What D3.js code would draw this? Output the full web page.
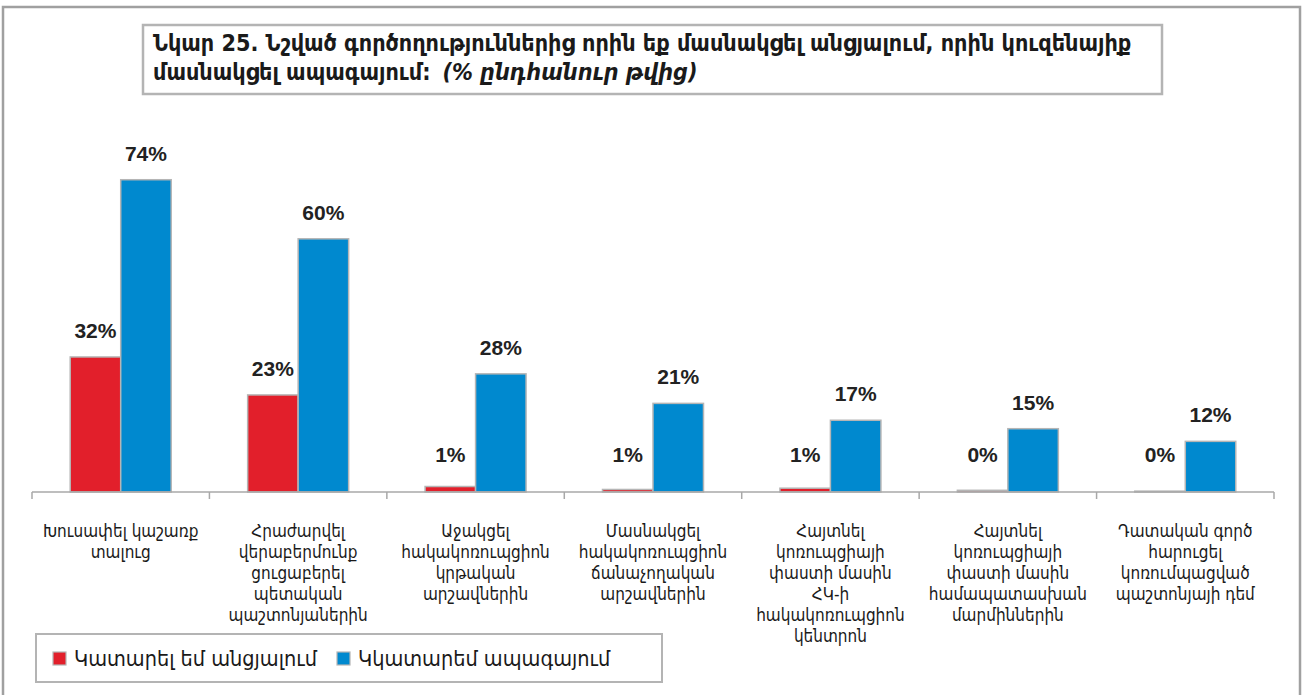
<!DOCTYPE html>
<html><head><meta charset="utf-8">
<script src="https://cdnjs.cloudflare.com/ajax/libs/d3/7.8.5/d3.min.js"></script>
<style>
html,body{margin:0;padding:0;background:#fff;}
svg{display:block;}
</style></head>
<body>
<script>
const categories = [
  "Խուսափել կաշառք\nտալուց",
  "Հրաժարվել\nվերաբերմունք\nցուցաբերել\nպետական\nպաշտոնյաներին",
  "Աջակցել\nհակակոռուպցիոն\nկրթական\nարշավներին",
  "Մասնակցել\nհակակոռուպցիոն\nճանաչողական\nարշավներին",
  "Հայտնել\nկոռուպցիայի\nփաստի մասին\nՀԿ-ի\nհակակոռուպցիոն\nկենտրոն",
  "Հայտնել\nկոռուպցիայի\nփաստի մասին\nհամապատասխան\nմարմիններին",
  "Դատական գործ\nհարուցել\nկոռումպացված\nպաշտոնյայի դեմ"
];
const seriesNames = ["Կատարել եմ անցյալում", "Կկատարեմ ապագայում"];
const pastValues = [32, 23, 1.3, 0.6, 0.9, 0.4, 0.2];
const futureValues = [74, 60, 28, 21, 17, 15, 12];
const seriesColors = ["#e21f2b", "#0089cf"];
const titleLine1 = "Նկար 25. Նշված գործողություններից որին եք մասնակցել անցյալում, որին կուզենայիք";
const titleLine2a = "մասնակցել ապագայում:";
const titleLine2b = "(% ընդհանուր թվից)";

const W = 1303, H = 695;
const svg = d3.select("body").append("svg").attr("width", W).attr("height", H);
const armFont = "'DejaVu Sans Condensed','DejaVu Sans',sans-serif";

// outer frame
svg.append("rect").attr("x", 3).attr("y", 7).attr("width", 1297).attr("height", 700)
  .attr("fill", "#fff").attr("stroke", "#a0a0a0").attr("stroke-width", 2.5);

// title box
svg.append("rect").attr("x", 143).attr("y", 25).attr("width", 1019).attr("height", 69)
  .attr("fill", "#fff").attr("stroke", "#b4b4b4").attr("stroke-width", 2.5);
const t1 = svg.append("text").attr("x", 153).attr("y", 51)
  .attr("font-family", armFont).attr("font-weight", "bold").attr("font-size", 22).attr("fill", "#1a1a1a")
  .text(titleLine1);
let fs = 22;
const len1 = t1.node().getComputedTextLength();
if (len1 > 0) fs = Math.min(26, 22 * 979 / len1);
t1.attr("font-size", fs);
const t2 = svg.append("text").attr("x", 153).attr("y", 80)
  .attr("font-family", armFont).attr("font-weight", "bold").attr("font-size", fs).attr("fill", "#1a1a1a");
t2.append("tspan").text(titleLine2a);
t2.append("tspan").attr("dx", 12).attr("font-style", "italic").text(titleLine2b);

// scales
const x = d3.scaleBand().domain(d3.range(categories.length)).range([32, 1274]).padding(0);
const x1 = d3.scaleBand().domain([0, 1]).range([0, x.bandwidth()]).paddingInner(0).paddingOuter(0.757);
const y = d3.scaleLinear().domain([0, 100]).range([492, 70]);

const data = categories.map((c, i) => ({i, vals: [pastValues[i], futureValues[i]]}));
const fmt = v => d3.format(".0f")(v) + "%";

const g = svg.append("g");
const groups = g.selectAll("g.cat").data(data).join("g").attr("transform", d => `translate(${x(d.i)},0)`);
groups.selectAll("rect").data(d => d.vals.map((v, s) => ({v, s}))).join("rect")
  .attr("x", d => x1(d.s)).attr("width", x1.bandwidth())
  .attr("y", d => y(d.v)).attr("height", d => y(0) - y(d.v))
  .attr("fill", d => seriesColors[d.s]).attr("stroke", "#b5b5b5").attr("stroke-width", 1.5);
groups.selectAll("text.val").data(d => d.vals.map((v, s) => ({v, s}))).join("text")
  .attr("class", "val")
  .attr("x", d => x1(d.s) + x1.bandwidth() / 2)
  .attr("y", d => Math.min(y(d.v), y(0) - 11) - 19)
  .attr("text-anchor", "middle")
  .attr("font-family", "'Liberation Sans',Arial,sans-serif").attr("font-weight", "bold")
  .attr("font-size", 21).attr("fill", "#222")
  .text(d => fmt(d.v));

// axis
const axisG = svg.append("g").attr("transform", `translate(0,${y(0)})`);
axisG.append("line").attr("x1", 32).attr("x2", 1274).attr("y1", 0).attr("y2", 0)
  .attr("stroke", "#a8a8a8").attr("stroke-width", 1.5);
const tickPos = d3.range(categories.length).map(i => x(i)).concat([x(categories.length - 1) + x.bandwidth()]);
axisG.selectAll("line.tick").data(tickPos).join("line").attr("class", "tick")
  .attr("x1", d => d).attr("x2", d => d).attr("y1", 0).attr("y2", 7)
  .attr("stroke", "#a8a8a8").attr("stroke-width", 1.5);

// category labels
const labs = svg.append("g").selectAll("text").data(categories).join("text")
  .attr("x", (d, i) => x(i) + x.bandwidth() / 2)
  .attr("y", 537)
  .attr("text-anchor", "middle")
  .attr("font-family", armFont).attr("font-size", 17).attr("fill", "#1a1a1a");
labs.each(function(d) {
  const lines = d.split("\n");
  d3.select(this).selectAll("tspan").data(lines).join("tspan")
    .attr("x", d3.select(this).attr("x")).attr("dy", (l, k) => k === 0 ? 0 : 21).text(l => l);
});

// legend
svg.append("rect").attr("x", 36).attr("y", 634).attr("width", 626).attr("height", 48)
  .attr("fill", "#fff").attr("stroke", "#b4b4b4").attr("stroke-width", 2);
const legX = [53, 337];
const leg = svg.append("g").selectAll("g").data(seriesNames).join("g")
  .attr("transform", (d, i) => `translate(${legX[i]},652)`);
leg.append("rect").attr("width", 13).attr("height", 13)
  .attr("fill", (d, i) => seriesColors[i]).attr("stroke", "#b5b5b5").attr("stroke-width", 1.2);
leg.append("text").attr("x", 21).attr("y", 14)
  .attr("font-family", armFont).attr("font-size", 21.5).attr("fill", "#1a1a1a").text(d => d);
</script>
</body></html>
